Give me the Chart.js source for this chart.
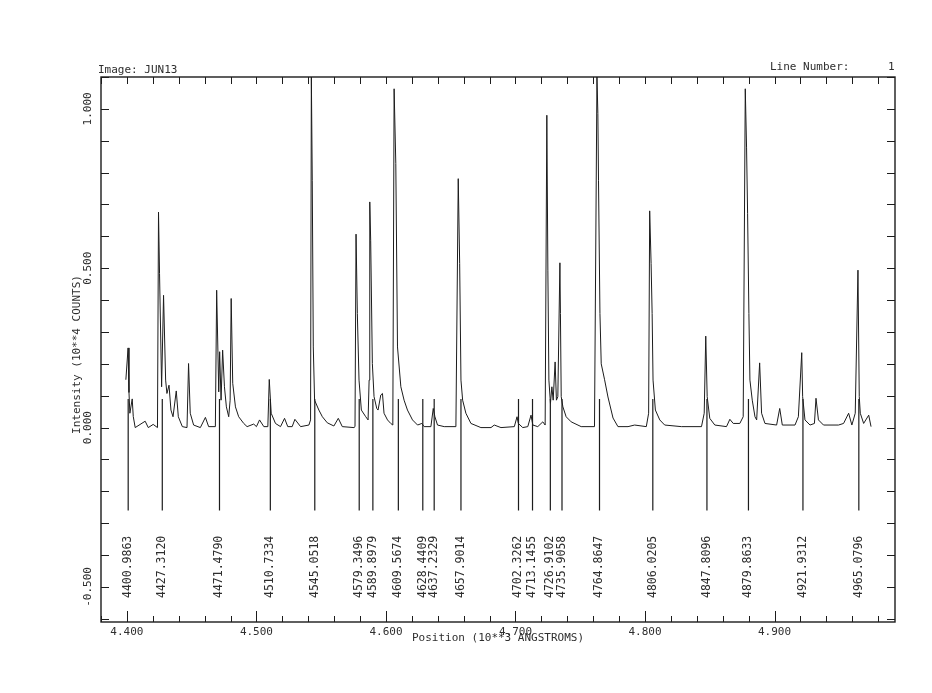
<!DOCTYPE html>
<html>
<head>
<meta charset="utf-8">
<title>Image: JUN13</title>
<script src="https://cdn.jsdelivr.net/npm/chart.js@4.4.0/dist/chart.umd.min.js"></script>
<style>
    html, body { margin: 0; padding: 0; background: #fff; }
    #wrap { width: 932px; height: 693px; }
</style>
</head>
<body>
<div id="wrap"><canvas id="spectrum" width="932" height="693"></canvas></div>
<script>
'use strict';

// Spectrum trace (position in angstroms, intensity in 10**4 counts)
var wavelength = [
    4399.2, 4400.9, 4401.6, 4402.3, 4404.1, 4404.9, 4406.4, 4414.1, 4416.5, 4420.3,
    4423.6, 4424.4, 4425.2, 4426.8, 4428.3, 4429.9, 4430.9, 4432.5, 4434.0, 4435.6,
    4438.1, 4439.7, 4442.8, 4446.4, 4447.6, 4448.9, 4451.5, 4456.7, 4460.6, 4463.1,
    4468.3, 4469.3, 4470.9, 4471.6, 4472.7, 4473.9, 4475.3, 4476.8, 4478.6, 4479.7,
    4480.5, 4481.7, 4483.8, 4486.3, 4490.2, 4492.8, 4497.9, 4500.0, 4502.4, 4505.7,
    4508.8, 4509.9, 4511.4, 4514.7, 4518.6, 4521.7, 4524.2, 4527.6, 4529.7, 4534.1,
    4540.5, 4541.8, 4542.4, 4543.1, 4543.9, 4544.9, 4548.2, 4550.9, 4554.7, 4559.8,
    4563.2, 4566.3, 4575.3, 4576.1, 4576.9, 4577.9, 4579.2, 4581.0, 4584.4, 4586.2,
    4587.0, 4587.5, 4588.2, 4589.5, 4590.8, 4592.9, 4593.9, 4596.0, 4597.3, 4598.5,
    4601.2, 4603.7, 4605.3, 4606.3, 4607.6, 4608.9, 4611.5, 4614.0, 4616.6, 4620.5,
    4624.4, 4627.7, 4629.5, 4634.7, 4636.5, 4637.8, 4639.8, 4645.0, 4654.0, 4655.8,
    4656.9, 4657.9, 4659.2, 4661.7, 4665.6, 4673.3, 4681.1, 4683.6, 4688.8, 4699.1,
    4701.2, 4702.2, 4705.6, 4709.5, 4712.0, 4713.4, 4717.2, 4721.1, 4722.9, 4724.2,
    4725.0, 4725.8, 4727.0, 4728.1, 4729.1, 4730.6, 4731.6, 4732.7, 4734.3, 4734.7,
    4735.3, 4736.6, 4739.1, 4743.0, 4750.7, 4761.0, 4762.9, 4763.6, 4764.1, 4765.2,
    4766.2, 4768.8, 4771.4, 4775.3, 4779.1, 4786.9, 4792.0, 4801.0, 4802.8, 4803.6,
    4804.7, 4805.5, 4806.2, 4808.0, 4811.4, 4815.2, 4828.1, 4843.6, 4845.7, 4846.9,
    4848.0, 4850.0, 4853.9, 4862.9, 4865.5, 4868.1, 4873.2, 4875.8, 4877.4, 4878.4,
    4879.2, 4880.2, 4881.0, 4882.8, 4884.9, 4886.2, 4888.5, 4890.0, 4892.6, 4901.6,
    4904.0, 4906.0, 4915.8, 4918.4, 4921.0, 4921.7, 4923.5, 4927.4, 4930.8, 4932.0,
    4933.9, 4937.8, 4949.4, 4953.3, 4957.2, 4959.7, 4962.3, 4964.4, 4965.4, 4966.2,
    4968.8, 4972.7, 4974.5
];

var intensity = [
    0.150, 0.250, 0.110, 0.045, 0.090, 0.035, 0.000, 0.020, 0.000, 0.010,
    0.000, 0.676, 0.483, 0.128, 0.415, 0.149, 0.107, 0.133, 0.055, 0.034,
    0.115, 0.034, 0.003, 0.000, 0.201, 0.045, 0.008, 0.000, 0.032, 0.003,
    0.003, 0.431, 0.112, 0.238, 0.086, 0.243, 0.128, 0.065, 0.034, 0.086,
    0.405, 0.139, 0.065, 0.034, 0.013, 0.003, 0.011, 0.003, 0.024, 0.003,
    0.003, 0.151, 0.045, 0.013, 0.003, 0.029, 0.003, 0.003, 0.026, 0.003,
    0.008, 0.024, 1.100, 0.776, 0.253, 0.086, 0.055, 0.034, 0.015, 0.005,
    0.029, 0.003, 0.000, 0.003, 0.607, 0.358, 0.149, 0.055, 0.034, 0.024,
    0.149, 0.708, 0.588, 0.201, 0.097, 0.060, 0.055, 0.102, 0.107, 0.045,
    0.024, 0.013, 0.008, 1.063, 0.828, 0.253, 0.128, 0.086, 0.055, 0.024,
    0.008, 0.013, 0.003, 0.003, 0.060, 0.034, 0.008, 0.003, 0.003, 0.781,
    0.515, 0.149, 0.086, 0.045, 0.013, 0.000, 0.000, 0.008, 0.000, 0.003,
    0.034, 0.013, 0.000, 0.003, 0.039, 0.008, 0.003, 0.018, 0.008, 0.980,
    0.494, 0.149, 0.076, 0.128, 0.086, 0.206, 0.086, 0.097, 0.517, 0.358,
    0.097, 0.065, 0.034, 0.018, 0.003, 0.003, 1.100, 0.985, 0.776, 0.358,
    0.200, 0.150, 0.096, 0.030, 0.003, 0.003, 0.008, 0.003, 0.045, 0.680,
    0.515, 0.358, 0.149, 0.055, 0.024, 0.008, 0.003, 0.003, 0.045, 0.287,
    0.097, 0.029, 0.008, 0.003, 0.026, 0.013, 0.013, 0.034, 1.063, 0.880,
    0.671, 0.358, 0.149, 0.086, 0.034, 0.024, 0.203, 0.045, 0.013, 0.008,
    0.060, 0.008, 0.008, 0.034, 0.235, 0.097, 0.024, 0.008, 0.013, 0.092,
    0.024, 0.008, 0.008, 0.013, 0.045, 0.008, 0.045, 0.494, 0.097, 0.045,
    0.013, 0.039, 0.003
];

// Identified lines (angstroms)
var markerLines = [
    4400.9863, 4427.3120, 4471.4790, 4510.7334, 4545.0518, 4579.3496, 4589.8979,
    4609.5674, 4628.4409, 4637.2329, 4657.9014, 4702.3262, 4713.1455, 4726.9102,
    4735.9058, 4764.8647, 4806.0205, 4847.8096, 4879.8633, 4921.9312, 4965.0796
];

// Axis ranges and labelled ticks (10**3 angstroms / 10**4 counts)
var xRange = [4.380, 4.993];
var yRange = [-0.610, 1.100];
var yTickValues = [-0.5, 0.0, 0.5, 1.0];

// Marker stick extent and label level (intensity units)
var markerTop = 0.09;
var markerBottom = -0.26;
var markerLabelLevel = -0.437;

var INK = '#1c1c1c';
var TEXT_INK = '#2e2e2e';
var FONT = '"DejaVu Sans Mono", "Liberation Mono", monospace';

/**
 * Build {x, y} points for the spectrum, x in 10**3 angstroms.
 */
function spectrumPoints() {
    var pts = [];
    for (var i = 0; i < wavelength.length; i++) {
        pts.push({ x: wavelength[i] / 1000, y: intensity[i] });
    }
    return pts;
}

/**
 * Vertical sticks for the identified lines, separated by gaps.
 */
function markerPoints() {
    var pts = [];
    for (var i = 0; i < markerLines.length; i++) {
        var x = markerLines[i] / 1000;
        pts.push({ x: x, y: markerTop });
        pts.push({ x: x, y: markerBottom });
        pts.push({ x: x, y: null });
    }
    return pts;
}

function rotatedText(ctx, text, x, y) {
    ctx.save();
    ctx.translate(x, y);
    ctx.rotate(-Math.PI / 2);
    ctx.textAlign = 'center';
    ctx.textBaseline = 'middle';
    ctx.fillText(text, 0, 0);
    ctx.restore();
}

// Frame, inward ticks, rotated labels and the plotter captions
var plotterDecor = {
    id: 'plotterDecor',
    afterDraw: function(chart) {
        var ctx = chart.ctx;
        var area = chart.chartArea;
        var xs = chart.scales.x;
        var ys = chart.scales.y;
        var k, v, px, py, len;

        ctx.save();
        ctx.strokeStyle = INK;
        ctx.fillStyle = TEXT_INK;

        ctx.lineWidth = 1.4;
        ctx.strokeRect(area.left, area.top, area.right - area.left, area.bottom - area.top);

        // x ticks every 0.02, labelled ones longer at the bottom
        ctx.lineWidth = 1;
        ctx.beginPath();
        for (k = Math.ceil(xs.min / 0.02 - 1e-6); k <= Math.floor(xs.max / 0.02 + 1e-6); k++) {
            v = k * 0.02;
            px = Math.round(xs.getPixelForValue(v)) + 0.5;
            len = (k % 5 === 0) ? 11 : 6;
            ctx.moveTo(px, area.bottom);
            ctx.lineTo(px, area.bottom - len);
            ctx.moveTo(px, area.top);
            ctx.lineTo(px, area.top + 7);
        }
        // y ticks every 0.1 on both sides
        for (k = Math.ceil(ys.min / 0.1 - 1e-6); k <= Math.floor(ys.max / 0.1 + 1e-6); k++) {
            v = k * 0.1;
            py = Math.round(ys.getPixelForValue(v)) + 0.5;
            ctx.moveTo(area.left, py);
            ctx.lineTo(area.left + 8, py);
            ctx.moveTo(area.right, py);
            ctx.lineTo(area.right - 8, py);
        }
        ctx.stroke();

        ctx.font = '11px ' + FONT;

        // y tick labels, rotated like the plotter output
        for (k = 0; k < yTickValues.length; k++) {
            py = ys.getPixelForValue(yTickValues[k]);
            rotatedText(ctx, yTickValues[k].toFixed(3), area.left - 13, py);
        }

        // axis titles
        rotatedText(ctx, 'Intensity (10**4 COUNTS)', area.left - 24, (area.top + area.bottom) / 2 + 5);
        ctx.textAlign = 'center';
        ctx.textBaseline = 'middle';
        ctx.fillText('Position (10**3 ANGSTROMS)', (area.left + area.right) / 2, area.bottom + 16);

        // line identifications
        ctx.font = '11.5px ' + FONT;
        py = ys.getPixelForValue(markerLabelLevel);
        for (k = 0; k < markerLines.length; k++) {
            px = xs.getPixelForValue(markerLines[k] / 1000);
            rotatedText(ctx, markerLines[k].toFixed(4), px, py);
        }

        // header
        ctx.font = '11px ' + FONT;
        ctx.textAlign = 'left';
        ctx.textBaseline = 'alphabetic';
        ctx.fillText('Image: JUN13', area.left - 3, area.top - 4);
        ctx.fillText('Line Number:', area.right - 125, area.top - 7);
        ctx.fillText('1', area.right - 7, area.top - 7);

        ctx.restore();
    }
};

var chart = new Chart(document.getElementById('spectrum').getContext('2d'), {
    type: 'line',
    data: {
        datasets: [
            {
                label: 'spectrum',
                data: spectrumPoints(),
                borderColor: INK,
                borderWidth: 1,
                pointRadius: 0,
                tension: 0,
                fill: false
            },
            {
                label: 'lines',
                data: markerPoints(),
                borderColor: INK,
                borderWidth: 1.2,
                pointRadius: 0,
                tension: 0,
                spanGaps: false,
                fill: false
            }
        ]
    },
    options: {
        responsive: false,
        animation: false,
        events: [],
        layout: {
            padding: { left: 101, right: 37, top: 77, bottom: 41 }
        },
        plugins: {
            legend: { display: false },
            tooltip: { enabled: false }
        },
        scales: {
            x: {
                type: 'linear',
                min: xRange[0],
                max: xRange[1],
                grid: { display: false, drawTicks: false },
                border: { display: false },
                ticks: {
                    stepSize: 0.1,
                    includeBounds: false,
                    autoSkip: false,
                    maxRotation: 0,
                    padding: 4,
                    color: TEXT_INK,
                    font: { family: FONT, size: 11 },
                    callback: function(value) {
                        return Number(value).toFixed(3);
                    }
                },
                afterFit: function(scale) {
                    scale.height = 30;
                }
            },
            y: {
                type: 'linear',
                min: yRange[0],
                max: yRange[1],
                display: false
            }
        }
    },
    plugins: [plotterDecor]
});
</script>
</body>
</html>
